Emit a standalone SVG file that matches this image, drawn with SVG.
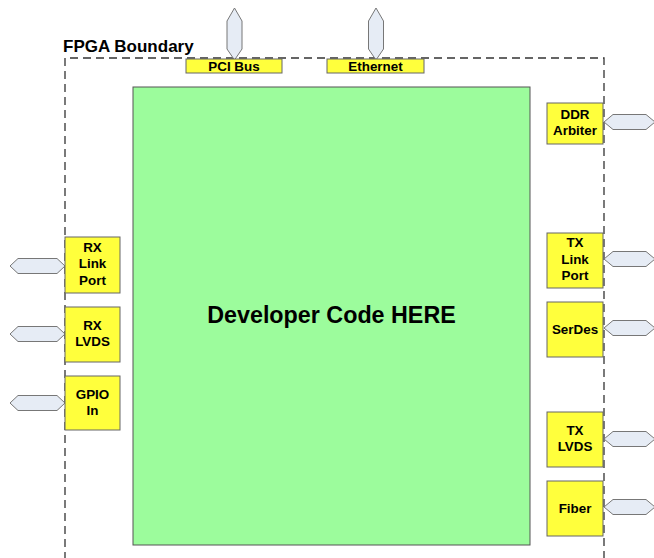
<svg xmlns="http://www.w3.org/2000/svg" width="654" height="558" viewBox="0 0 654 558">
<style>
.bnd{fill:none;stroke:#333;stroke-width:1.3;stroke-dasharray:8 5}
.io{fill:#ffff3c;stroke:#666;stroke-width:1}
.core{fill:#9cfc9c;stroke:#555;stroke-width:1}
.hex{fill:#e6ecf5;stroke:#777;stroke-width:1}
.t{font-family:"Liberation Sans",Arial,sans-serif;font-weight:bold;font-size:13.4px;fill:#000;text-anchor:middle}
.title{font-family:"Liberation Sans",Arial,sans-serif;font-weight:bold;font-size:17px;fill:#000}
.big{font-family:"Liberation Sans",Arial,sans-serif;font-weight:bold;font-size:23.3px;fill:#000;text-anchor:middle}
</style>
<rect width="654" height="558" fill="#fff"/>
<g id="boundary">
<path class="bnd" d="M65,560 V58 H604 V560"/>
<text class="title" x="63" y="52">FPGA Boundary</text>
</g>
<g id="core">
<rect class="core" x="133" y="87" width="397" height="458"/>
<text class="big" x="331.5" y="323">Developer Code HERE</text>
</g>
<g id="connectors">
<polygon class="hex" points="234.5,8 242,21 242,49 234.5,60 227,49 227,21"/>
<polygon class="hex" points="376,8 383.5,21 383.5,49 376,60 368.5,49 368.5,21"/>
<polygon class="hex" points="10,266 18,258.5 57,258.5 65,266 57,273.5 18,273.5"/>
<polygon class="hex" points="10,334 18,326.5 57,326.5 65,334 57,341.5 18,341.5"/>
<polygon class="hex" points="10,403 18,395.5 57,395.5 65,403 57,410.5 18,410.5"/>
<polygon class="hex" points="604,122 613,114.5 646,114.5 655,122 646,129.5 613,129.5"/>
<polygon class="hex" points="604,259 613,251.5 646,251.5 655,259 646,266.5 613,266.5"/>
<polygon class="hex" points="604,328 613,320.5 646,320.5 655,328 646,335.5 613,335.5"/>
<polygon class="hex" points="604,439 613,431.5 646,431.5 655,439 646,446.5 613,446.5"/>
<polygon class="hex" points="604,507 613,499.5 646,499.5 655,507 646,514.5 613,514.5"/>
</g>
<g id="pci"><rect class="io" x="186" y="59" width="96" height="14"/><text class="t" x="234" y="71">PCI Bus</text></g>
<g id="ethernet"><rect class="io" x="327" y="59" width="97" height="14"/><text class="t" x="375.5" y="71">Ethernet</text></g>
<g id="rxlink"><rect class="io" x="65" y="237" width="55" height="56"/><text class="t" x="92.5" y="252">RX</text><text class="t" x="92.5" y="268">Link</text><text class="t" x="92.5" y="285">Port</text></g>
<g id="rxlvds"><rect class="io" x="65" y="307" width="55" height="55"/><text class="t" x="92.5" y="330">RX</text><text class="t" x="92.5" y="346">LVDS</text></g>
<g id="gpio"><rect class="io" x="65" y="376" width="55" height="54"/><text class="t" x="92.5" y="399">GPIO</text><text class="t" x="92.5" y="415">In</text></g>
<g id="ddr"><rect class="io" x="547" y="103" width="56" height="41"/><text class="t" x="575" y="119">DDR</text><text class="t" x="575" y="135">Arbiter</text></g>
<g id="txlink"><rect class="io" x="547" y="233" width="56" height="55"/><text class="t" x="575" y="247">TX</text><text class="t" x="575" y="264">Link</text><text class="t" x="575" y="280">Port</text></g>
<g id="serdes"><rect class="io" x="547" y="302" width="56" height="55"/><text class="t" x="575" y="334">SerDes</text></g>
<g id="txlvds"><rect class="io" x="547" y="412" width="56" height="55"/><text class="t" x="575" y="435">TX</text><text class="t" x="575" y="451">LVDS</text></g>
<g id="fiber"><rect class="io" x="547" y="481" width="56" height="55"/><text class="t" x="575" y="513">Fiber</text></g>
</svg>
